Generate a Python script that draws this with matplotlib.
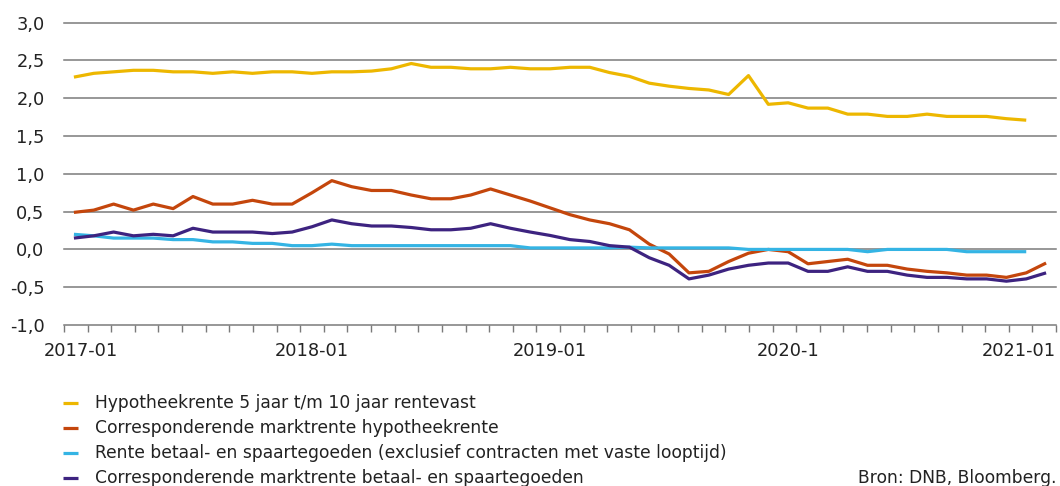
import matplotlib
matplotlib.use('Agg')
import matplotlib.pyplot as plt
import numpy as np
from matplotlib.lines import Line2D
from matplotlib.ticker import FuncFormatter, FixedLocator
import matplotlib.transforms as mtransforms

# ---------------- data ----------------
months = [f"{y}-{m:02d}" for y in range(2017, 2022) for m in range(1, 13)][:50]  # 2017-01 .. 2021-02

hypotheekrente = [2.28, 2.33, 2.35, 2.37, 2.37, 2.35, 2.35, 2.33, 2.35, 2.33,
                  2.35, 2.35, 2.33, 2.35, 2.35, 2.36, 2.39, 2.46, 2.41, 2.41,
                  2.39, 2.39, 2.41, 2.39, 2.39, 2.41, 2.41, 2.34, 2.29, 2.20,
                  2.16, 2.13, 2.11, 2.05, 2.30, 1.92, 1.94, 1.87, 1.87, 1.79,
                  1.79, 1.76, 1.76, 1.79, 1.76, 1.76, 1.76, 1.73, 1.71]

marktrente_hypotheek = [0.49, 0.52, 0.60, 0.52, 0.60, 0.54, 0.70, 0.60, 0.60, 0.65,
                        0.60, 0.60, 0.75, 0.91, 0.83, 0.78, 0.78, 0.72, 0.67, 0.67,
                        0.72, 0.80, 0.72, 0.64, 0.55, 0.46, 0.39, 0.34, 0.26, 0.07,
                        -0.06, -0.31, -0.29, -0.16, -0.05, 0.00, -0.03, -0.19, -0.16, -0.13,
                        -0.21, -0.21, -0.26, -0.29, -0.31, -0.34, -0.34, -0.37, -0.31, -0.18]

rente_spaartegoeden = [0.20, 0.18, 0.15, 0.15, 0.15, 0.13, 0.13, 0.10, 0.10, 0.08,
                       0.08, 0.05, 0.05, 0.07, 0.05, 0.05, 0.05, 0.05, 0.05, 0.05,
                       0.05, 0.05, 0.05, 0.02, 0.02, 0.02, 0.02, 0.02, 0.03, 0.02,
                       0.02, 0.02, 0.02, 0.02, 0.00, 0.00, 0.00, 0.00, 0.00, 0.00,
                       -0.03, 0.00, 0.00, 0.00, 0.00, -0.03, -0.03, -0.03, -0.03]

marktrente_spaar = [0.15, 0.18, 0.23, 0.18, 0.20, 0.18, 0.28, 0.23, 0.23, 0.23,
                    0.21, 0.23, 0.30, 0.39, 0.34, 0.31, 0.31, 0.29, 0.26, 0.26,
                    0.28, 0.34, 0.28, 0.23, 0.185, 0.13, 0.105, 0.05, 0.03, -0.11,
                    -0.21, -0.39, -0.34, -0.26, -0.21, -0.18, -0.18, -0.29, -0.29, -0.23,
                    -0.29, -0.29, -0.34, -0.37, -0.37, -0.39, -0.39, -0.42, -0.39, -0.31]

series_labels = ["Hypotheekrente 5 jaar t/m 10 jaar rentevast",
                 "Corresponderende marktrente hypotheekrente",
                 "Rente betaal- en spaartegoeden (exclusief contracten met vaste looptijd)",
                 "Corresponderende marktrente betaal- en spaartegoeden"]
series_colors = ["#EDB700", "#C4460C", "#34B4E4", "#3D2380"]

xtick_months = ["2017-01", "2018-01", "2019-01", "2020-01", "2021-01"]
xtick_labels = ["2017-01", "2018-01", "2019-01", "2020-1", "2021-01"]
source_text = "Bron: DNB, Bloomberg."

# ---------------- figure ----------------
W, H = 1060, 486
fig = plt.figure(figsize=(W / 100, H / 100), dpi=100)
plt.rcParams['font.family'] = ['DejaVu Sans']
TXT = '#222222'
GRID = '#7a7a7a'

ax = fig.add_axes([64 / W, 1 - 325 / H, (1056 - 64) / W, (325 - 22.7) / H])
x = np.arange(len(months))
all_series = [hypotheekrente, marktrente_hypotheek, rente_spaartegoeden, marktrente_spaar]
for vals, col in zip(all_series, series_colors):
    ax.plot(x[:len(vals)], vals, color=col, lw=2.3, solid_joinstyle='round',
            solid_capstyle='butt', zorder=3)

ax.set_xlim(-0.5, len(months) - 0.5)
ax.set_ylim(-1.0, 3.0)
ax.set_yticks(np.arange(-1.0, 3.01, 0.5))
ax.yaxis.set_major_formatter(FuncFormatter(lambda v, p: f"{v:.1f}".replace('.', ',')))
ax.grid(axis='y', color=GRID, lw=1.1)
for gl in ax.yaxis.get_gridlines():
    gl.set_clip_on(False)
ax.set_axisbelow(True)
for s in ax.spines.values():
    s.set_visible(False)

ax.tick_params(axis='y', length=0, pad=14, labelsize=12.8, labelcolor=TXT)
major_pos = [months.index(m) for m in xtick_months]
ax.set_xticks(major_pos)
ax.set_xticklabels(xtick_labels)
ax.xaxis.set_minor_locator(FixedLocator(np.linspace(-0.5, len(months) - 0.5, 43)))
ax.tick_params(axis='x', which='major', length=0, pad=12, labelsize=12.8, labelcolor=TXT)
ax.tick_params(axis='x', which='minor', length=5.2, width=1.0, color=GRID, direction='out')
ax.tick_params(axis='x', which='minor', bottom=True)

# nudge first/last labels inward like the reference
lbls = ax.get_xticklabels()
lbls[0].set_transform(lbls[0].get_transform() + mtransforms.ScaledTranslation(7 / 100, 0, fig.dpi_scale_trans))
lbls[-1].set_transform(lbls[-1].get_transform() + mtransforms.ScaledTranslation(-7 / 100, 0, fig.dpi_scale_trans))

# ---------------- legend (manual) ----------------
row_y = [402.7, 427.7, 452.7, 477.7]
LFS = 12.3
for lab, col, yy in zip(series_labels, series_colors, row_y):
    fy = 1 - yy / H
    fig.add_artist(Line2D([63 / W, 78 / W], [fy, fy], color=col, lw=2.3,
                          solid_capstyle='butt', transform=fig.transFigure))
    fig.text(95 / W, 1 - (yy + 5.5) / H, lab, fontsize=LFS, color=TXT,
             va='baseline', ha='left')

fig.text(1057 / W, 1 - (row_y[-1] + 5.5) / H, source_text, fontsize=LFS, color=TXT,
         va='baseline', ha='right')

fig.savefig('out.png', dpi=100)
